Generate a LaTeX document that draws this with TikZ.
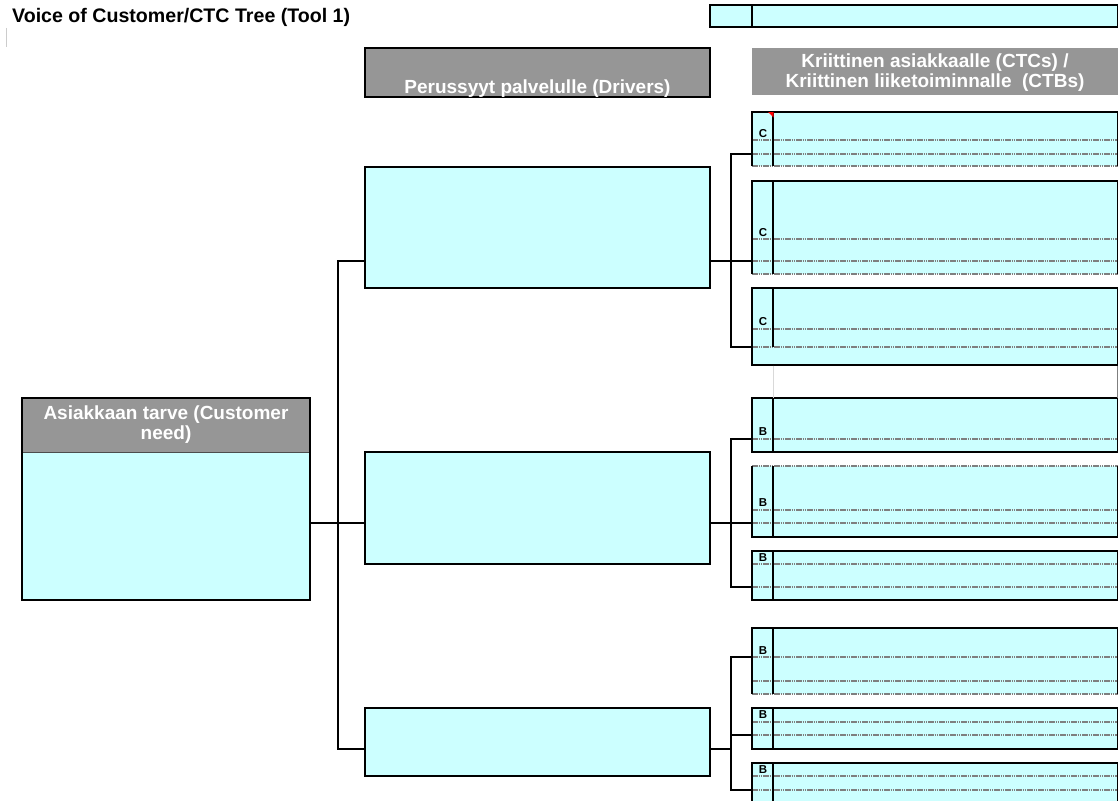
\documentclass[tikz,border=0pt]{standalone}
\usepackage{fontspec}
\setmainfont{Liberation Sans}
\definecolor{cellfill}{HTML}{CCFFFF}
\definecolor{headgray}{HTML}{969696}
\definecolor{rulegray}{HTML}{7F7F7F}

\tikzset{
  frame/.style={draw=black, line width=1.1pt},
  softframe/.style={draw=rulegray, line width=1.2pt, dash pattern=on 1.5pt off 0.7pt},
  cellbox/.style={rectangle, fill=cellfill, inner sep=0pt, outer sep=0pt, anchor=north west},
  headbox/.style={rectangle, fill=headgray, inner sep=0pt, outer sep=0pt, anchor=north west},
  rowrule/.style={draw=rulegray, line width=1.2pt, dash pattern=on 1.5pt off 0.7pt},
  link/.style={draw=black, line width=1.1pt},
  headtext/.style={text=white, font=\bfseries\fontsize{19}{20}\selectfont, align=center, inner sep=0pt},
  tag/.style={font=\bfseries\fontsize{11.5}{11.5}\selectfont, inner sep=0pt, anchor=base},
}

\begin{document}
\begin{tikzpicture}[x=1pt,y=-1pt]
\useasboundingbox (0,0) rectangle (1118,800);

% title and small marker
\node[font=\bfseries\fontsize{19.6}{20}\selectfont, anchor=base west, inner sep=0pt] (title) at (12,23) {Voice of Customer/CTC Tree (Tool 1)};
\draw[black!20, line width=0.8pt] (6,28) -- (6,47);

% top-right key cell
\node[cellbox, frame, minimum width=408, minimum height=22] (keycell) at (710,5) {};
\draw[frame] ([xshift=42pt]keycell.north west) -- ([xshift=42pt]keycell.south west);

% column headers
\node[headbox, frame, minimum width=345, minimum height=49] (drvhead) at (365,48) {};
\node[headtext, anchor=base] (drvtitle) at (537.5,93) {Perussyyt palvelulle (Drivers)};
\node[headbox, minimum width=366, minimum height=47] (ctchead) at (752,48) {};
\node[headtext] (ctctitle) at ([yshift=-1.5pt]ctchead.center) {Kriittinen asiakkaalle (CTCs) /\\Kriittinen liiketoiminnalle~ (CTBs)};

% customer need
\node[cellbox, minimum width=288, minimum height=202] (need) at (22,398) {};
\node[headbox, minimum width=288, minimum height=54] (needhead) at (22,398) {};
\draw[draw=black!70, line width=0.8pt] (needhead.south west) -- (needhead.south east);
\draw[frame] (need.north west) rectangle (need.south east);
\node[headtext, anchor=north] (needtitle) at (166,406) {Asiakkaan tarve (Customer\\need)};

% drivers
\node[cellbox, frame, minimum width=345, minimum height=121] (d1) at (365,167) {};
\node[cellbox, frame, minimum width=345, minimum height=112] (d2) at (365,452) {};
\node[cellbox, frame, minimum width=345, minimum height=68]  (d3) at (365,708) {};

% CTC / CTB cells
\node[cellbox, minimum width=365.5, minimum height=54] (c1) at (752,112) {};
\node[cellbox, minimum width=365.5, minimum height=93] (c2) at (752,181) {};
\node[cellbox, minimum width=365.5, minimum height=77] (c3) at (752,288) {};
\node[cellbox, minimum width=365.5, minimum height=54] (c4) at (752,398) {};
\node[cellbox, minimum width=365.5, minimum height=71] (c5) at (752,466) {};
\node[cellbox, minimum width=365.5, minimum height=49] (c6) at (752,551) {};
\node[cellbox, minimum width=365.5, minimum height=66] (c7) at (752,628) {};
\node[cellbox, minimum width=365.5, minimum height=41] (c8) at (752,708) {};
\node[cellbox, minimum width=365.5, minimum height=40] (c9) at (752,763) {};

% dotted row rules
\foreach \yy in {140,154,239,261,329,347,439,510,523,564,587,657,681,722,735,776,790}
  \draw[rowrule] (752,\yy) -- (1117.5,\yy);

% soft (dotted) cell edges
\draw[softframe] (c1.south west) -- (c1.south east);
\draw[softframe] (c2.south west) -- (c2.south east);
\draw[softframe] (c5.north west) -- (c5.north east);
\draw[softframe] (c7.south west) -- (c7.south east);

% solid cell edges
\draw[frame] (c1.south west) -- (c1.north west) -- (c1.north east) -- (c1.south east);
\draw[frame] (c2.south west) -- (c2.north west) -- (c2.north east) -- (c2.south east);
\draw[frame] (c3.north west) rectangle (c3.south east);
\draw[frame] (c4.north west) rectangle (c4.south east);
\draw[frame] (c5.north west) -- (c5.south west) -- (c5.south east) -- (c5.north east);
\draw[frame] (c6.north west) rectangle (c6.south east);
\draw[frame] (c7.south west) -- (c7.north west) -- (c7.north east) -- (c7.south east);
\draw[frame] (c8.north west) rectangle (c8.south east);
\draw[frame] (c9.south west) -- (c9.north west) -- (c9.north east) -- (c9.south east);

% label dividers
\foreach \c in {c1,c2,c4,c5,c6,c7,c8,c9}
  \draw[frame] ([xshift=21pt]\c.north west) -- ([xshift=21pt]\c.south west);
\draw[frame] ([xshift=21pt]c3.north west) -- ++(0,59);
\fill[red] (768,112) -- (773.5,112) -- (773.5,117.5) -- cycle;

% faint gridlines under the third cell
\draw[black!15, line width=0.8pt] (773,365.5) -- (773,398);
\draw[rulegray, line width=0.8pt] (1117.5,365.5) -- (1117.5,398);

% row labels
\node[tag] (l1) at (763,137.5) {C};
\node[tag] (l2) at (763,236.5) {C};
\node[tag] (l3) at (763,325.5) {C};
\node[tag] (l4) at (763,435.5) {B};
\node[tag] (l5) at (763,506.5) {B};
\node[tag] (l6) at (763,561.5) {B};
\node[tag] (l7) at (763,654.5) {B};
\node[tag] (l8) at (763,718.5) {B};
\node[tag] (l9) at (763,773.5) {B};

% tree connectors: need -> drivers
\coordinate (t1) at (338,261);
\coordinate (t2) at (338,523);
\coordinate (t3) at (338,749);
\draw[link] (d1.west|-t1) -- (t1) -- (t3) -- (d3.west|-t3);
\draw[link] (need.east|-t2) -- (d2.west|-t2);

% drivers -> CTC/CTB cells
\coordinate (u1) at (731,154);
\coordinate (u2) at (731,261);
\coordinate (u3) at (731,347);
\draw[link] (c1.west|-u1) -- (u1) -- (u3) -- (c3.west|-u3);
\draw[link] (d1.east|-u2) -- (c2.west|-u2);

\coordinate (u4) at (731,439);
\coordinate (u5) at (731,523);
\coordinate (u6) at (731,587);
\draw[link] (c4.west|-u4) -- (u4) -- (u6) -- (c6.west|-u6);
\draw[link] (d2.east|-u5) -- (c5.west|-u5);

\coordinate (u7) at (731,657);
\coordinate (u8) at (731,735);
\coordinate (u9) at (731,790);
\coordinate (u10) at (731,749);
\draw[link] (c7.west|-u7) -- (u7) -- (u9) -- (c9.west|-u9);
\draw[link] (u8) -- (c8.west|-u8);
\draw[link] (d3.east|-u10) -- (u10);
\end{tikzpicture}
\end{document}
